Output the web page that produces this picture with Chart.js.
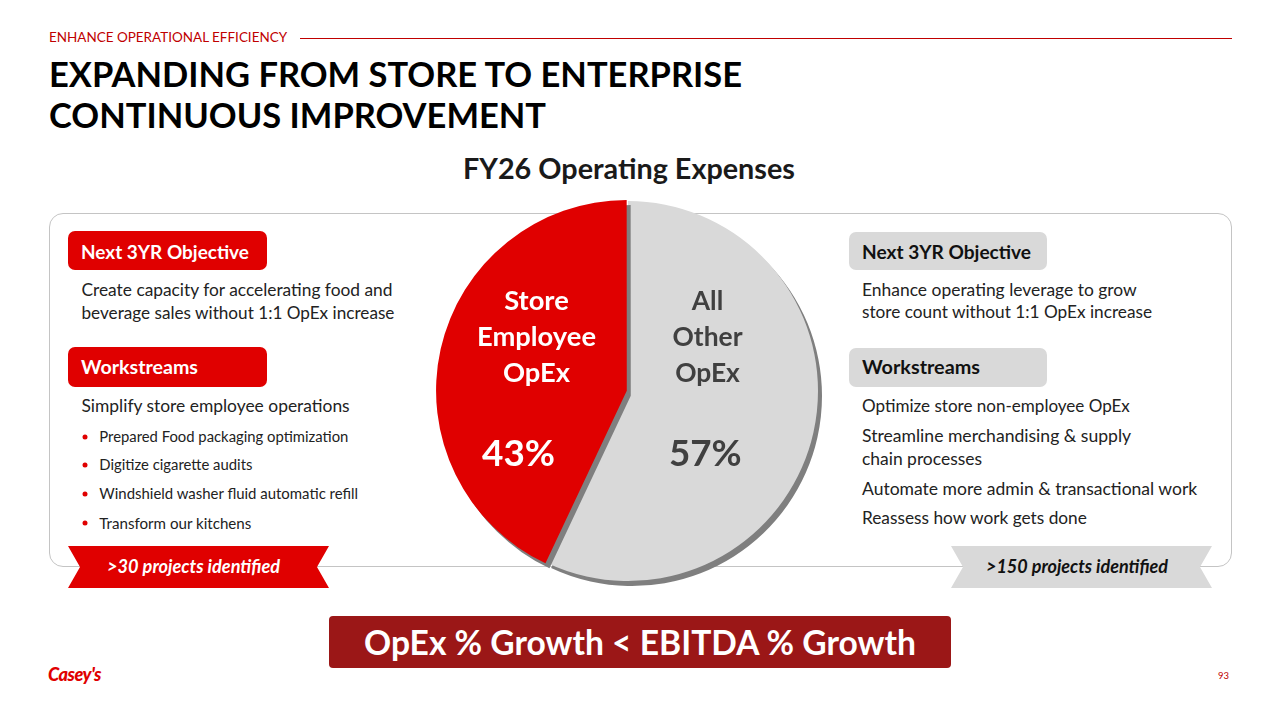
<!DOCTYPE html>
<html>
<head>
<meta charset="utf-8">
<script src="https://cdn.jsdelivr.net/npm/chart.js@4.4.1/dist/chart.umd.min.js"></script>
<style>
  html,body{margin:0;padding:0;background:#fff;}
  body{width:1280px;height:720px;position:relative;overflow:hidden;font-family:"Lato","Open Sans",sans-serif;color:#222;}
  .t{position:absolute;white-space:nowrap;line-height:1.2;transform:translateY(-50%);}
  .c{position:absolute;white-space:nowrap;line-height:1.2;transform:translate(-50%,-50%);text-align:center;}
  .b{font-weight:700;}
  .box{position:absolute;border-radius:7px;}
  .dot{position:absolute;width:5px;height:5px;border-radius:50%;background:#E00000;transform:translate(-50%,-50%);}
  #frame{position:absolute;left:49px;top:213px;width:1183px;height:354px;border:1px solid #C4C4C4;border-radius:14px;box-sizing:border-box;}
  .rib{position:absolute;top:546px;width:261px;height:42px;clip-path:polygon(0 0,100% 0,calc(100% - 12px) 50%,100% 100%,0 100%,12px 50%);}
  #pieWrap{position:absolute;left:418px;top:181px;width:420px;height:420px;}
  .plab{position:absolute;white-space:nowrap;font-weight:700;text-align:center;transform:translate(-50%,-50%);line-height:36px;}
</style>
</head>
<body>
<script>
// ---- data ----
const categories = ['All Other OpEx', 'Store Employee OpEx'];
const shares = [57, 43];
const chartTitle = 'FY26 Operating Expenses';
</script>

<!-- header -->
<div class="t" style="left:49px;top:37px;color:#C00000;" data-w="238">ENHANCE OPERATIONAL EFFICIENCY</div>
<div style="position:absolute;left:300px;top:38px;width:932px;height:1px;background:#C00000;"></div>
<div class="t b" style="left:49px;top:73.5px;color:#000;" data-w="693">EXPANDING FROM STORE TO ENTERPRISE</div>
<div class="t b" style="left:49px;top:114.5px;color:#000;" data-w="497">CONTINUOUS IMPROVEMENT</div>

<div id="chartTitle" class="c b" style="left:629px;top:168px;color:#1a1a1a;" data-w="332"></div>

<div id="frame"></div>

<!-- left column -->
<div class="box" style="left:68px;top:231px;width:199px;height:39px;background:#E00000;"></div>
<div class="t b" style="left:81px;top:251.5px;color:#fff;" data-w="168">Next 3YR Objective</div>
<div class="t" style="left:81.5px;top:290px;" data-w="311">Create capacity for accelerating food and</div>
<div class="t" style="left:81.5px;top:312.5px;" data-w="313">beverage sales without 1:1 OpEx increase</div>
<div class="box" style="left:68px;top:347px;width:199px;height:40px;background:#E00000;"></div>
<div class="t b" style="left:81px;top:367px;color:#fff;" data-w="117">Workstreams</div>
<div class="t" style="left:81.5px;top:406px;" data-w="268">Simplify store employee operations</div>
<div class="dot" style="left:85px;top:436.5px;"></div>
<div class="t" style="left:99.3px;top:436.5px;" data-w="249">Prepared Food packaging optimization</div>
<div class="dot" style="left:85px;top:465px;"></div>
<div class="t" style="left:99.3px;top:465px;" data-w="153">Digitize cigarette audits</div>
<div class="dot" style="left:85px;top:494px;"></div>
<div class="t" style="left:99.3px;top:494px;" data-w="259">Windshield washer fluid automatic refill</div>
<div class="dot" style="left:85px;top:523px;"></div>
<div class="t" style="left:99.3px;top:523px;" data-w="152">Transform our kitchens</div>

<!-- right column -->
<div class="box" style="left:849px;top:231.5px;width:198px;height:38px;background:#D9D9D9;"></div>
<div class="t b" style="left:862px;top:251.5px;color:#111;" data-w="169">Next 3YR Objective</div>
<div class="t" style="left:862px;top:289.5px;" data-w="275">Enhance operating leverage to grow</div>
<div class="t" style="left:862px;top:312px;" data-w="290">store count without 1:1 OpEx increase</div>
<div class="box" style="left:849px;top:347.5px;width:198px;height:39px;background:#D9D9D9;"></div>
<div class="t b" style="left:862px;top:367px;color:#111;" data-w="118">Workstreams</div>
<div class="t" style="left:862px;top:406px;" data-w="268">Optimize store non-employee OpEx</div>
<div class="t" style="left:862px;top:436px;" data-w="269">Streamline merchandising &amp; supply</div>
<div class="t" style="left:862px;top:458.5px;" data-w="120">chain processes</div>
<div class="t" style="left:862px;top:488.5px;" data-w="335">Automate more admin &amp; transactional work</div>
<div class="t" style="left:862px;top:518px;" data-w="225">Reassess how work gets done</div>

<!-- ribbons -->
<div class="rib" style="left:68px;background:#E00000;"></div>
<div class="c b" style="left:193.6px;top:567px;color:#fff;font-style:italic;" data-w="173">&gt;30 projects identified</div>
<div class="rib" style="left:951px;background:#D9D9D9;"></div>
<div class="c b" style="left:1077px;top:567px;color:#111;font-style:italic;" data-w="182">&gt;150 projects identified</div>

<!-- pie -->
<div id="pieWrap"><canvas id="pie" width="420" height="420"></canvas></div>
<div id="labels"></div>

<!-- bottom banner -->
<div style="position:absolute;left:329px;top:616px;width:622px;height:52px;background:#9B1717;border-radius:4px;"></div>
<div class="c b" style="left:640px;top:642px;color:#fff;" data-w="552">OpEx % Growth &lt; EBITDA % Growth</div>

<!-- footer -->
<div class="t" style="left:48px;top:675px;color:#E00000;font-weight:900;font-style:italic;letter-spacing:-0.5px;" data-w="53">Casey's</div>
<div class="t" style="left:1218px;top:676px;color:#C00000;" data-w="11">93</div>

<script>
document.getElementById('chartTitle').textContent = chartTitle;

// label placement (layout only)
const labelLayout = [
  {cx:707.5, cy:336, pcx:705.3, pcy:452, color:'#404040', w:70, pw:72.7},
  {cx:536.5, cy:336, pcx:518.5, pcy:452, color:'#FFFFFF', w:119, pw:73}
];
const labWrap = document.getElementById('labels');
categories.forEach((cat, i) => {
  const L = labelLayout[i];
  const n = document.createElement('div');
  n.className = 'plab';
  n.style.left = L.cx + 'px'; n.style.top = L.cy + 'px'; n.style.color = L.color;
  n.innerHTML = cat.split(' ').join('<br>');
  n.dataset.w = L.w;
  labWrap.appendChild(n);
  const p = document.createElement('div');
  p.className = 'plab';
  p.style.left = L.pcx + 'px'; p.style.top = L.pcy + 'px'; p.style.color = L.color;
  p.style.lineHeight = '1.2';
  p.textContent = shares[i] + '%';
  p.dataset.w = L.pw;
  labWrap.appendChild(p);
});

function fitAll(){
  document.querySelectorAll('[data-w]').forEach(el => {
    const target = parseFloat(el.dataset.w);
    const w = el.getBoundingClientRect().width;
    if (!w) return;
    const fs = parseFloat(getComputedStyle(el).fontSize);
    el.style.fontSize = (fs * target / w) + 'px';
  });
}
fitAll(); fitAll();

const shadowPlugin = {
  id: 'sliceShadow',
  beforeDatasetDraw(chart){
    const c = chart.ctx;
    c.save();
    c.shadowColor = '#7F7F7F';
    c.shadowOffsetX = 4;
    c.shadowOffsetY = 5;
    c.shadowBlur = 0;
  },
  afterDatasetDraw(chart){ chart.ctx.restore(); }
};

new Chart(document.getElementById('pie'), {
  type: 'pie',
  data: {
    labels: categories,
    datasets: [{
      data: shares,
      backgroundColor: ['#D9D9D9', '#E00000'],
      borderWidth: 0,
      offset: [0, 5],
      hoverOffset: 0
    }]
  },
  options: {
    responsive: false,
    animation: false,
    events: [],
    layout: { padding: 17.5 },
    plugins: { legend: { display: false }, tooltip: { enabled: false } }
  },
  plugins: [shadowPlugin]
});
</script>
</body>
</html>
